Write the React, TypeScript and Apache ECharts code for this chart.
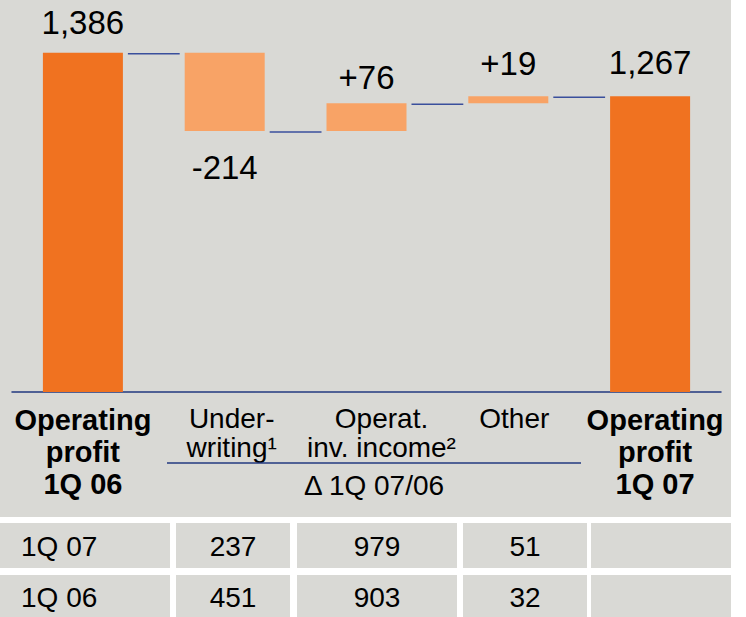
import React, { useEffect, useRef } from "react";
import * as echarts from "echarts";

// ---- data ----
const categories = [
  "Operating\nprofit\n1Q 06",
  "Under-\nwriting¹",
  "Operat.\ninv. income²",
  "Other",
  "Operating\nprofit\n1Q 07",
];
const startValue = 1386;
const changes = [-214, 76, 19];
const endValue = 1267;
const valueLabels = ["1,386", "-214", "+76", "+19", "1,267"];
const deltaCaption = "\u0394 1Q 07/06";

const tableRowLabels = ["1Q 07", "1Q 06"];
const underwritingRow = [237, 451];
const invIncomeRow = [979, 903];
const otherRow = [51, 32];

// ---- styles ----
const FONT = "'Liberation Sans', Arial, sans-serif";
const DARK = "#f07220";
const LIGHT = "#f8a366";
const PANEL = "#d9d9d5";
const NAVY = "#22397f";
const CONNECTOR = "#3a4f9c";
const labelDistances = [14, 20, 9, 16, 17];
const labelShift = [0, 14, 30, 12, 10];
const colX = [
  [0, 170],
  [176, 290],
  [297, 457],
  [463, 587],
  [591, 731],
];
const rowY = [
  [523, 568],
  [575, 617],
];

export default function App() {
  const ref = useRef<HTMLDivElement>(null);

  useEffect(() => {
    if (!ref.current) return;
    const chart = echarts.init(ref.current, null, { renderer: "svg" });

    // waterfall bases (running totals)
    const totals: number[] = [startValue];
    changes.forEach((c) => totals.push(totals[totals.length - 1] + c));
    const bases = [0];
    const visible = [startValue];
    changes.forEach((c, i) => {
      const prev = totals[i];
      const next = totals[i + 1];
      bases.push(Math.min(prev, next));
      visible.push(Math.abs(c));
    });
    bases.push(0);
    visible.push(endValue);
    const levels = [...totals]; // connector levels

    const rich: any = {};
    categories.forEach((_, i) => {
      const bold = i === 0 || i === categories.length - 1;
      rich["s" + i] = {
        fontFamily: FONT,
        fontSize: bold ? 29 : 28,
        fontWeight: bold ? "bold" : "normal",
        color: "#000",
        lineHeight: bold ? 32 : 29,
        padding: [0, 0, 0, labelShift[i]],
      };
    });

    const tableTexts: any[] = [];
    const tableRects: any[] = [];
    const rowValues = [tableRowLabels, underwritingRow, invIncomeRow, otherRow];
    rowY.forEach(([y0, y1], r) => {
      colX.forEach(([x0, x1], c) => {
        tableRects.push({
          type: "rect",
          shape: { x: x0, y: y0, width: x1 - x0, height: y1 - y0 },
          style: { fill: PANEL },
          z: -5,
        });
        if (c < rowValues.length) {
          const txt = String(rowValues[c][r]);
          tableTexts.push({
            type: "text",
            x: c === 0 ? 21 : (x0 + x1) / 2,
            y: (y0 + y1) / 2 + 1,
            style: {
              text: txt,
              fontFamily: FONT,
              fontSize: 28,
              fill: "#000",
              align: c === 0 ? "left" : "center",
              verticalAlign: "middle",
            },
            z: 10,
          });
        }
      });
    });

    const option: any = {
      animation: false,
      backgroundColor: "#ffffff",
      grid: { left: 12, right: 25, top: 0, bottom: 225, containLabel: false },
      xAxis: {
        type: "category",
        data: categories,
        axisLine: { show: true, lineStyle: { color: NAVY, width: 1.5 } },
        axisTick: { show: false },
        splitLine: { show: false },
        axisLabel: {
          interval: 0,
          margin: 12,
          formatter: (value: string, index: number) =>
            value
              .split("\n")
              .map((line) => `{s${index}|${line}}`)
              .join("\n"),
          rich,
        },
      },
      yAxis: {
        type: "value",
        min: 456,
        max: 1531,
        show: false,
        splitLine: { show: false },
      },
      series: [
        {
          type: "bar",
          stack: "wf",
          barWidth: 80,
          data: bases,
          itemStyle: { color: "transparent" },
          emphasis: { disabled: true },
          silent: true,
        },
        {
          type: "bar",
          stack: "wf",
          barWidth: 80,
          data: visible.map((v, i) => ({
            value: v,
            itemStyle: {
              color: i === 0 || i === visible.length - 1 ? DARK : LIGHT,
            },
            label: {
              show: true,
              position: i === 1 ? "bottom" : "top",
              distance: labelDistances[i],
              formatter: valueLabels[i],
              fontFamily: FONT,
              fontSize: 33,
              color: "#000",
            },
          })),
          emphasis: { disabled: true },
        },
        {
          type: "custom",
          data: levels.map((v, i) => [i, v]),
          z: 5,
          renderItem: (params: any, api: any) => {
            const i = api.value(0);
            const lvl = api.value(1);
            const a = api.coord([i, lvl]);
            const b = api.coord([i + 1, lvl]);
            return {
              type: "line",
              shape: { x1: a[0] + 45, y1: a[1] + 1, x2: b[0] - 45, y2: b[1] + 1 },
              style: { stroke: CONNECTOR, lineWidth: 1.5 },
            };
          },
        },
      ],
      graphic: [
        {
          type: "rect",
          shape: { x: 0, y: 0, width: 731, height: 517 },
          style: { fill: PANEL },
          z: -10,
        },
        ...tableRects,
        {
          type: "line",
          shape: { x1: 167, y1: 463, x2: 581, y2: 463 },
          style: { stroke: NAVY, lineWidth: 1.5 },
          z: 10,
        },
        {
          type: "text",
          x: 374,
          y: 485,
          style: {
            text: deltaCaption,
            fontFamily: FONT,
            fontSize: 28,
            fill: "#000",
            align: "center",
            verticalAlign: "middle",
          },
          z: 10,
        },
        ...tableTexts,
      ],
    };

    chart.setOption(option);
    return () => chart.dispose();
  }, []);

  return (
    <div
      ref={ref}
      style={{ position: "absolute", left: 0, top: 0, width: 746, height: 617 }}
    />
  );
}
